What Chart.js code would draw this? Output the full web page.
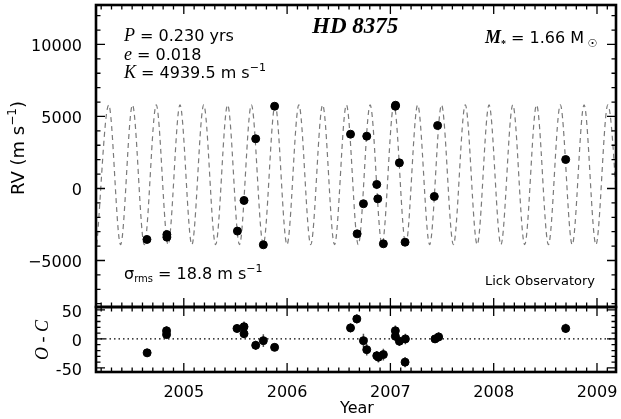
<!DOCTYPE html>
<html>
<head>
<meta charset="utf-8">
<script src="https://cdn.jsdelivr.net/npm/chart.js@4.4.1/dist/chart.umd.min.js"></script>
<style>
  html, body { margin: 0; padding: 0; background: #fff; }
  #wrap { position: relative; width: 621px; height: 419px; overflow: hidden; }
  canvas { position: absolute; left: 0; }
  #rv { top: 0; }
  #oc { top: 300px; }
</style>
</head>
<body>
<div id="wrap">
  <canvas id="rv" width="621" height="312"></canvas>
  <canvas id="oc" width="621" height="119"></canvas>
</div>
<script>
// axis ranges and tick labels
const yearRange = [2004.15, 2009.184];
const rvRange = [-8230, 12740];
const ocRange = [-57, 55];
const yearTicks = [2005, 2006, 2007, 2008, 2009];
const rvTicks = [-5000, 0, 5000, 10000];
const ocTicks = [-50, 0, 50];

// Keplerian fit (dashed), read at its peaks and troughs
const modelYears = [
  2004.158, 2004.273, 2004.388, 2004.503, 2004.618, 2004.733, 2004.848, 2004.963,
  2005.078, 2005.193, 2005.308, 2005.424, 2005.539, 2005.654, 2005.769, 2005.884,
  2005.999, 2006.114, 2006.229, 2006.344, 2006.459, 2006.574, 2006.689, 2006.804,
  2006.919, 2007.034, 2007.149, 2007.264, 2007.380, 2007.495, 2007.610, 2007.725,
  2007.840, 2007.955, 2008.070, 2008.185, 2008.300, 2008.415, 2008.530, 2008.645,
  2008.760, 2008.875, 2008.990, 2009.105, 2009.220
];
const modelRV = [
  -3900, 5800, -3900, 5800, -3900, 5800, -3900, 5800,
  -3900, 5800, -3900, 5800, -3900, 5800, -3900, 5800,
  -3900, 5800, -3900, 5800, -3900, 5800, -3900, 5800,
  -3900, 5800, -3900, 5800, -3900, 5800, -3900, 5800,
  -3900, 5800, -3900, 5800, -3900, 5800, -3900, 5800,
  -3900, 5800, -3900, 5800, -3900
];

// Lick velocities
const rvYears = [
  2004.643, 2004.836, 2004.836, 2005.519, 2005.583, 2005.696, 2005.770, 2005.879,
  2006.614, 2006.678, 2006.739, 2006.771, 2006.868, 2006.878, 2006.932, 2007.048,
  2007.050, 2007.087, 2007.142, 2007.425, 2007.457, 2008.697
];
const rvValues = [
  -3540, -3200, -3380, -2960, -833, 3450, -3910, 5710,
  3770, -3150, -1060, 3630, 280, -720, -3840, 5710,
  5780, 1780, -3730, -555, 4370, 2010
];

// residuals O - C
const ocYears = [
  2004.645, 2004.833, 2004.833, 2005.515, 2005.583, 2005.583, 2005.696, 2005.770,
  2005.879, 2006.614, 2006.675, 2006.739, 2006.771, 2006.868, 2006.884, 2006.932,
  2007.048, 2007.048, 2007.087, 2007.145, 2007.142, 2007.432, 2007.467, 2008.697
];
const ocValues = [
  -24, 14, 7.5, 18, 21, 9, -11, -3,
  -14.5, 19, 34.5, -3, -18.5, -29, -31.5, -27,
  14, 4.6, -4, 0, -40, 0, 3.5, 18
];
const ocErrors = [
  7, 8, 7, 7, 9, 8, 8, 11,
  6, 8, 8, 12, 10, 8, 9, 10,
  9, 8, 8, 9, 9, 7, 8, 8
];

const SANS = '"DejaVu Sans"';
const SERIF = '"Liberation Serif"';

function toPoints(xs, ys) {
  return xs.map((x, i) => ({ x: x, y: ys[i] }));
}

// frame with inward ticks on all four sides
const framePlugin = {
  id: 'frame',
  afterDatasetsDraw(chart, args, opts) {
    const { ctx, chartArea: a, scales } = chart;
    ctx.save();
    ctx.strokeStyle = '#000';
    ctx.lineWidth = 1.3;
    ctx.beginPath();
    const xs = scales.x;
    for (let k = Math.ceil(xs.min * 10); k <= Math.floor(xs.max * 10); k++) {
      const len = k % 10 === 0 ? 9 : 4.5;
      const px = xs.getPixelForValue(k / 10);
      ctx.moveTo(px, a.top); ctx.lineTo(px, a.top + len);
      ctx.moveTo(px, a.bottom); ctx.lineTo(px, a.bottom - len);
    }
    const ys = scales.y;
    for (let k = Math.ceil(ys.min / opts.minor); k <= Math.floor(ys.max / opts.minor); k++) {
      const v = k * opts.minor;
      const len = v % opts.major === 0 ? 9 : 4.5;
      const py = ys.getPixelForValue(v);
      ctx.moveTo(a.left, py); ctx.lineTo(a.left + len, py);
      ctx.moveTo(a.right, py); ctx.lineTo(a.right - len, py);
    }
    ctx.stroke();
    ctx.lineWidth = 2.6;
    ctx.strokeRect(a.left, a.top, a.right - a.left, a.bottom - a.top);
    ctx.restore();
  }
};

function runsWidth(ctx, runs) {
  let w = 0;
  for (const r of runs) { ctx.font = r.font; w += ctx.measureText(r.t).width; }
  return w;
}

function drawRuns(ctx, x, y, runs) {
  for (const r of runs) {
    ctx.font = r.font;
    ctx.fillText(r.t, x, y + (r.dy || 0));
    x += ctx.measureText(r.t).width;
  }
}

// free text: labels and fit parameters
const notesPlugin = {
  id: 'notes',
  afterDraw(chart, args, opts) {
    const ctx = chart.ctx;
    ctx.save();
    ctx.fillStyle = '#000';
    ctx.textBaseline = 'alphabetic';
    for (const n of opts.items) {
      if (n.rotate) {
        ctx.save();
        ctx.translate(n.x, n.y);
        ctx.rotate(-Math.PI / 2);
        ctx.textBaseline = 'middle';
        drawRuns(ctx, -runsWidth(ctx, n.runs) / 2, 0, n.runs);
        ctx.restore();
      } else {
        const x = n.center ? n.x - runsWidth(ctx, n.runs) / 2 : n.x;
        drawRuns(ctx, x, n.y, n.runs);
      }
    }
    ctx.restore();
  }
};

// vertical error bars on the residuals
const errorBarPlugin = {
  id: 'errbars',
  beforeDatasetsDraw(chart) {
    const { ctx, scales } = chart;
    ctx.save();
    ctx.strokeStyle = '#555';
    ctx.lineWidth = 1.5;
    ctx.beginPath();
    ocYears.forEach((yr, i) => {
      const px = scales.x.getPixelForValue(yr);
      ctx.moveTo(px, scales.y.getPixelForValue(ocValues[i] - ocErrors[i]));
      ctx.lineTo(px, scales.y.getPixelForValue(ocValues[i] + ocErrors[i]));
    });
    ctx.stroke();
    ctx.restore();
  }
};

const tickFont = { family: SANS, size: 16 };
// y labels sit a couple of pixels lower than canvas "middle": an empty first line does that
const yTickFont = { family: SANS, size: 16, lineHeight: '5px' };

function fitY(s) {
  s.width = 96;
  s.paddingTop = 0;
  s.paddingBottom = 0;
}

function fitX(s) {
  s.height = 47;
  s.paddingLeft = 0;
  s.paddingRight = 0;
}

new Chart(document.getElementById('rv'), {
  type: 'scatter',
  data: {
    datasets: [
      {
        data: toPoints(rvYears, rvValues),
        pointRadius: 4,
        backgroundColor: '#000',
        borderColor: '#000',
        order: 1
      },
      {
        data: toPoints(modelYears, modelRV),
        showLine: true,
        pointRadius: 0,
        borderColor: '#7a7a7a',
        borderWidth: 1.2,
        borderDash: [5, 4],
        cubicInterpolationMode: 'monotone',
        order: 2
      }
    ]
  },
  options: {
    responsive: false,
    animation: false,
    devicePixelRatio: 1,
    layout: { padding: { top: 5, right: 4, bottom: 5, left: 0 } },
    plugins: {
      legend: { display: false },
      tooltip: { enabled: false },
      frame: { minor: 1000, major: 5000 },
      notes: {
        items: [
          { x: 124, y: 41, runs: [
            { t: 'P', font: 'italic 18px ' + SERIF },
            { t: ' = 0.230 yrs', font: '16px ' + SANS }] },
          { x: 124, y: 60, runs: [
            { t: 'e', font: 'italic 18px ' + SERIF },
            { t: ' = 0.018', font: '16px ' + SANS }] },
          { x: 124, y: 78, runs: [
            { t: 'K', font: 'italic 18px ' + SERIF },
            { t: ' = 4939.5 m s', font: '16px ' + SANS },
            { t: '\u22121', font: '11px ' + SANS, dy: -7 }] },
          { x: 312, y: 33, runs: [
            { t: 'HD 8375', font: 'italic bold 23px ' + SERIF }] },
          { x: 485, y: 43, runs: [
            { t: 'M', font: 'italic bold 18px ' + SERIF },
            { t: '*', font: 'bold 10px ' + SERIF, dy: 4 },
            { t: ' = 1.66 M', font: '16px ' + SANS },
            { t: ' \u2609', font: '11px ' + SANS, dy: 4 }] },
          { x: 124, y: 279, runs: [
            { t: '\u03c3', font: '16px ' + SANS },
            { t: 'rms', font: '10px ' + SANS, dy: 3 },
            { t: ' = 18.8 m s', font: '16px ' + SANS },
            { t: '\u22121', font: '11px ' + SANS, dy: -7 }] },
          { x: 485, y: 285, runs: [
            { t: 'Lick Observatory', font: '13px ' + SANS }] },
          { x: 19, y: 148, rotate: true, runs: [
            { t: 'RV (m s', font: '18px ' + SANS },
            { t: '\u22121', font: '12px ' + SANS, dy: -6 },
            { t: ')', font: '18px ' + SANS }] }
        ]
      }
    },
    scales: {
      x: { type: 'linear', display: false, min: yearRange[0], max: yearRange[1] },
      y: {
        type: 'linear',
        min: rvRange[0],
        max: rvRange[1],
        afterFit: fitY,
        afterBuildTicks(s) { s.ticks = rvTicks.map(v => ({ value: v })); },
        grid: { display: false },
        border: { display: false },
        ticks: {
          font: yTickFont, color: '#000', padding: 6, autoSkip: false,
          callback: v => ['', v < 0 ? '\u2212' + (-v) : String(v)]
        }
      }
    }
  },
  plugins: [framePlugin, notesPlugin]
});

new Chart(document.getElementById('oc'), {
  type: 'scatter',
  data: {
    datasets: [
      {
        data: toPoints(ocYears, ocValues),
        pointRadius: 4,
        backgroundColor: '#000',
        borderColor: '#000',
        order: 1
      },
      {
        data: [{ x: yearRange[0], y: 0 }, { x: yearRange[1], y: 0 }],
        showLine: true,
        pointRadius: 0,
        borderColor: '#000',
        borderWidth: 1.3,
        borderDash: [1.5, 3],
        order: 2
      }
    ]
  },
  options: {
    responsive: false,
    animation: false,
    devicePixelRatio: 1,
    layout: { padding: { top: 7, right: 4, bottom: 0, left: 0 } },
    plugins: {
      legend: { display: false },
      tooltip: { enabled: false },
      frame: { minor: 10, major: 50 },
      notes: {
        items: [
          { x: 43, y: 40, rotate: true, runs: [
            { t: 'O - C', font: 'italic 18px ' + SERIF }] },
          { x: 357, y: 113, center: true, runs: [
            { t: 'Year', font: '16px ' + SANS }] }
        ]
      }
    },
    scales: {
      x: {
        type: 'linear',
        min: yearRange[0],
        max: yearRange[1],
        afterFit: fitX,
        afterBuildTicks(s) { s.ticks = yearTicks.map(v => ({ value: v })); },
        grid: { display: false },
        border: { display: false },
        ticks: { font: tickFont, color: '#000', padding: 3, maxRotation: 0, autoSkip: false, callback: v => String(v) }
      },
      y: {
        type: 'linear',
        min: ocRange[0],
        max: ocRange[1],
        afterFit: fitY,
        afterBuildTicks(s) { s.ticks = ocTicks.map(v => ({ value: v })); },
        grid: { display: false },
        border: { display: false },
        ticks: { font: yTickFont, color: '#000', padding: 6, autoSkip: false, callback: v => ['', String(v)] }
      }
    }
  },
  plugins: [errorBarPlugin, framePlugin, notesPlugin]
});
</script>
</body>
</html>
